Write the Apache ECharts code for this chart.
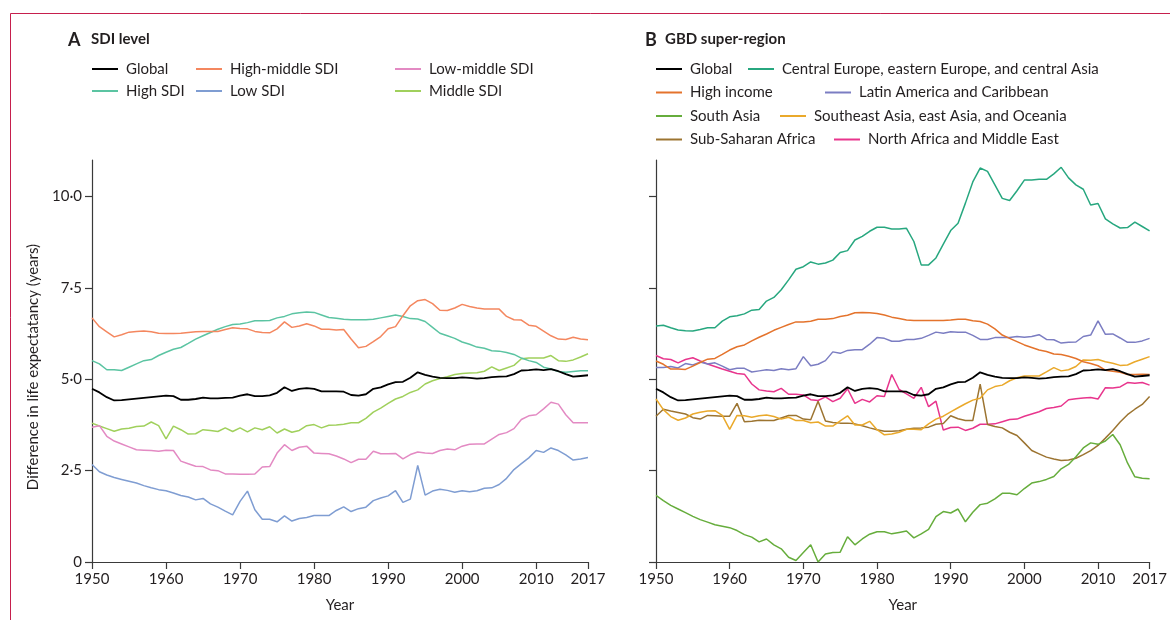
<!DOCTYPE html>
<html>
<head>
<meta charset="utf-8">
<script src="https://cdn.jsdelivr.net/npm/echarts@6/dist/echarts.min.js"></script>
<style>
html,body{margin:0;padding:0;background:#fff;}
#chart{width:1170px;height:620px;}
</style>
</head>
<body>
<div id="chart"></div>
<script>
// ---------- DATA ----------
const years = [1950,1951,1952,1953,1954,1955,1956,1957,1958,1959,
  1960,1961,1962,1963,1964,1965,1966,1967,1968,1969,
  1970,1971,1972,1973,1974,1975,1976,1977,1978,1979,
  1980,1981,1982,1983,1984,1985,1986,1987,1988,1989,
  1990,1991,1992,1993,1994,1995,1996,1997,1998,1999,
  2000,2001,2002,2003,2004,2005,2006,2007,2008,2009,
  2010,2011,2012,2013,2014,2015,2016,2017];

const xTickLabels = [1950,1960,1970,1980,1990,2000,2010,2017];
const yTickLabels = [0,2.5,5,7.5,10];

// Panel A: SDI level
const globalVals = [4.74,4.64,4.51,4.42,4.43,4.45,4.47,4.49,4.51,4.53,
  4.55,4.54,4.44,4.44,4.46,4.50,4.48,4.48,4.49,4.50,
  4.55,4.59,4.54,4.54,4.56,4.63,4.78,4.68,4.74,4.76,
  4.74,4.67,4.67,4.67,4.66,4.57,4.55,4.59,4.74,4.78,
  4.86,4.92,4.93,5.04,5.19,5.12,5.07,5.04,5.03,5.03,
  5.05,5.04,5.02,5.03,5.06,5.07,5.08,5.14,5.24,5.25,
  5.27,5.25,5.28,5.22,5.14,5.07,5.09,5.11];
const highMiddleSDI = [6.68,6.44,6.30,6.16,6.22,6.29,6.31,6.32,6.30,6.26,
  6.25,6.25,6.26,6.28,6.30,6.31,6.31,6.31,6.36,6.41,
  6.39,6.38,6.31,6.28,6.27,6.38,6.57,6.42,6.46,6.52,
  6.46,6.37,6.37,6.35,6.36,6.10,5.86,5.90,6.03,6.17,
  6.38,6.44,6.74,7.01,7.15,7.18,7.07,6.89,6.88,6.95,
  7.05,6.99,6.95,6.92,6.92,6.92,6.72,6.63,6.62,6.48,
  6.45,6.32,6.19,6.10,6.09,6.15,6.10,6.08];
const highSDI = [5.51,5.42,5.26,5.26,5.24,5.33,5.42,5.51,5.54,5.65,
  5.74,5.82,5.87,5.98,6.10,6.19,6.28,6.37,6.44,6.50,
  6.51,6.55,6.60,6.60,6.61,6.68,6.72,6.79,6.82,6.84,
  6.83,6.76,6.69,6.67,6.64,6.63,6.63,6.63,6.64,6.68,
  6.72,6.76,6.72,6.66,6.65,6.58,6.42,6.26,6.19,6.12,
  6.02,5.96,5.88,5.85,5.78,5.77,5.73,5.68,5.58,5.51,
  5.46,5.33,5.28,5.21,5.19,5.21,5.23,5.23];
const middleSDI = [3.80,3.72,3.65,3.58,3.64,3.66,3.71,3.72,3.83,3.73,
  3.37,3.72,3.62,3.50,3.51,3.62,3.60,3.57,3.67,3.57,
  3.67,3.56,3.67,3.62,3.70,3.53,3.64,3.55,3.60,3.73,
  3.76,3.67,3.74,3.75,3.77,3.81,3.81,3.93,4.10,4.21,
  4.34,4.46,4.53,4.64,4.71,4.87,4.96,5.02,5.07,5.13,
  5.16,5.17,5.18,5.22,5.34,5.24,5.31,5.38,5.56,5.58,
  5.58,5.58,5.65,5.51,5.49,5.53,5.61,5.70];
const lowMiddleSDI = [3.69,3.73,3.44,3.31,3.23,3.15,3.07,3.06,3.05,3.03,
  3.06,3.05,2.76,2.69,2.62,2.61,2.52,2.50,2.41,2.41,
  2.40,2.40,2.41,2.60,2.61,2.98,3.21,3.05,3.14,3.17,
  2.98,2.97,2.96,2.90,2.82,2.72,2.81,2.81,3.03,2.96,
  2.96,2.97,2.82,2.94,3.01,2.98,2.97,3.05,3.09,3.07,
  3.17,3.22,3.23,3.23,3.36,3.49,3.54,3.65,3.90,4.00,
  4.03,4.19,4.37,4.32,4.03,3.81,3.81,3.81];
const lowSDI = [2.67,2.47,2.38,2.31,2.26,2.21,2.16,2.09,2.03,1.98,
  1.95,1.89,1.82,1.78,1.70,1.74,1.59,1.50,1.39,1.29,
  1.66,1.94,1.43,1.17,1.17,1.10,1.26,1.12,1.19,1.22,
  1.27,1.27,1.27,1.41,1.51,1.38,1.46,1.50,1.68,1.75,
  1.81,1.95,1.63,1.72,2.64,1.83,1.94,1.99,1.96,1.91,
  1.95,1.92,1.95,2.02,2.03,2.12,2.29,2.53,2.69,2.85,
  3.05,3.00,3.12,3.05,2.93,2.79,2.82,2.86];

// Panel B: GBD super-region
const centralEurope = [6.46,6.48,6.41,6.35,6.33,6.32,6.36,6.41,6.41,6.59,
  6.71,6.74,6.79,6.89,6.91,7.14,7.24,7.45,7.72,8.01,
  8.08,8.21,8.15,8.18,8.26,8.47,8.52,8.81,8.91,9.05,
  9.16,9.16,9.11,9.11,9.13,8.77,8.13,8.13,8.32,8.70,
  9.07,9.27,9.82,10.40,10.78,10.69,10.32,9.95,9.89,10.16,
  10.45,10.45,10.47,10.47,10.62,10.80,10.51,10.32,10.20,9.77,
  9.81,9.39,9.25,9.14,9.15,9.30,9.18,9.06];
const highIncome = [5.50,5.41,5.28,5.28,5.27,5.36,5.46,5.55,5.57,5.68,
  5.80,5.89,5.94,6.05,6.15,6.24,6.34,6.42,6.50,6.57,
  6.57,6.59,6.64,6.64,6.66,6.72,6.75,6.82,6.83,6.82,
  6.80,6.76,6.70,6.66,6.62,6.61,6.61,6.61,6.61,6.61,
  6.62,6.64,6.64,6.60,6.58,6.51,6.38,6.21,6.12,6.03,
  5.94,5.87,5.80,5.76,5.69,5.68,5.63,5.57,5.48,5.43,
  5.37,5.25,5.22,5.19,5.13,5.13,5.14,5.13];
const latinAmerica = [5.32,5.32,5.35,5.31,5.43,5.39,5.47,5.42,5.45,5.36,
  5.26,5.30,5.30,5.20,5.23,5.26,5.24,5.29,5.26,5.29,
  5.62,5.37,5.41,5.51,5.75,5.71,5.79,5.81,5.81,5.96,
  6.14,6.12,6.04,6.04,6.09,6.09,6.12,6.20,6.29,6.26,
  6.30,6.29,6.29,6.20,6.09,6.09,6.14,6.14,6.14,6.17,
  6.15,6.17,6.22,6.09,6.08,5.99,6.01,6.02,6.17,6.21,
  6.60,6.23,6.24,6.13,6.01,6.01,6.05,6.12];
const southAsia = [1.82,1.68,1.55,1.45,1.35,1.25,1.16,1.09,1.02,0.98,
  0.94,0.86,0.75,0.68,0.55,0.63,0.47,0.36,0.13,0.04,
  0.26,0.47,0.00,0.22,0.26,0.27,0.69,0.47,0.63,0.76,
  0.83,0.83,0.77,0.81,0.85,0.66,0.77,0.89,1.24,1.38,
  1.34,1.45,1.10,1.36,1.57,1.61,1.73,1.88,1.88,1.84,
  2.01,2.16,2.20,2.26,2.34,2.55,2.67,2.88,3.12,3.26,
  3.22,3.31,3.49,3.21,2.71,2.33,2.29,2.28];
const southeastAsia = [4.46,4.17,3.98,3.88,3.94,4.05,4.10,4.13,4.14,4.01,
  3.63,4.01,4.00,3.96,4.00,4.02,3.98,3.91,3.96,3.87,
  3.87,3.81,3.83,3.72,3.72,3.86,4.00,3.75,3.75,3.85,
  3.62,3.48,3.50,3.55,3.63,3.63,3.62,3.78,3.91,3.99,
  4.11,4.22,4.33,4.43,4.48,4.71,4.80,4.84,4.96,5.04,
  5.09,5.09,5.09,5.20,5.32,5.23,5.26,5.35,5.53,5.52,
  5.54,5.48,5.44,5.38,5.39,5.48,5.55,5.62];
const subSaharanAfrica = [3.99,4.18,4.13,4.09,4.05,3.95,3.91,4.01,4.00,3.99,
  3.99,4.34,3.84,3.85,3.88,3.87,3.87,3.94,4.01,4.01,
  3.91,3.89,4.40,3.86,3.82,3.80,3.80,3.78,3.73,3.67,
  3.62,3.58,3.58,3.59,3.63,3.66,3.67,3.69,3.77,3.79,
  4.00,3.92,3.87,3.87,4.87,3.76,3.71,3.67,3.55,3.46,
  3.26,3.05,2.96,2.87,2.82,2.78,2.79,2.84,2.94,3.05,
  3.19,3.39,3.60,3.83,4.03,4.18,4.31,4.53];
const northAfrica = [5.65,5.56,5.54,5.45,5.54,5.59,5.50,5.42,5.35,5.28,
  5.22,5.16,5.14,4.87,4.71,4.68,4.66,4.75,4.59,4.59,
  4.57,4.44,4.42,4.52,4.39,4.48,4.74,4.34,4.45,4.38,
  4.55,4.53,5.13,4.72,4.60,4.48,4.78,4.25,4.40,3.61,
  3.68,3.69,3.60,3.66,3.77,3.77,3.78,3.84,3.90,3.91,
  3.99,4.05,4.11,4.20,4.23,4.27,4.44,4.47,4.49,4.50,
  4.46,4.77,4.76,4.79,4.91,4.89,4.91,4.84];

// ---------- CHART ----------
const FONT = 'Lato, "Noto Sans", sans-serif';
const TXT = '#231f20';
const AX = '#3a3a3a';

function pairs(vals){ return years.map((y,i)=>[y, vals[i]]); }

const panelA = [
  {name:'Global', vals:globalVals, color:'#000000', w:1.8},
  {name:'High-middle SDI', vals:highMiddleSDI, color:'#f4875f', w:1.5},
  {name:'Low-middle SDI', vals:lowMiddleSDI, color:'#e38ac3', w:1.5},
  {name:'High SDI', vals:highSDI, color:'#5bc4a2', w:1.5},
  {name:'Low SDI', vals:lowSDI, color:'#7f9dd2', w:1.5},
  {name:'Middle SDI', vals:middleSDI, color:'#a0d05c', w:1.5}
];
const panelB = [
  {name:'Global ', vals:globalVals, color:'#000000', w:1.8},
  {name:'Central Europe, eastern Europe, and central Asia', vals:centralEurope, color:'#27a77f', w:1.5},
  {name:'High income', vals:highIncome, color:'#e4732c', w:1.5},
  {name:'Latin America and Caribbean', vals:latinAmerica, color:'#7b7dc2', w:1.5},
  {name:'South Asia', vals:southAsia, color:'#66ad3c', w:1.5},
  {name:'Southeast Asia, east Asia, and Oceania', vals:southeastAsia, color:'#eaa92b', w:1.5},
  {name:'Sub-Saharan Africa', vals:subSaharanAfrica, color:'#9c7431', w:1.5},
  {name:'North Africa and Middle East', vals:northAfrica, color:'#e8358d', w:1.5}
];

const series = [];
panelA.slice().reverse().forEach(s=>series.push({
  name:s.name, type:'line', xAxisIndex:0, yAxisIndex:0, data:pairs(s.vals),
  symbol:'none', lineStyle:{color:s.color, width:s.w}, itemStyle:{color:s.color},
  silent:true, animation:false
}));
panelB.slice().reverse().forEach(s=>series.push({
  name:s.name, type:'line', xAxisIndex:1, yAxisIndex:1, data:pairs(s.vals),
  symbol:'none', lineStyle:{color:s.color, width:s.w}, itemStyle:{color:s.color},
  silent:true, animation:false
}));

// legend placements [name, iconLeft, rowCenterY]
const legendPos = [
  ['Global',92,69],['High-middle SDI',196,69],['Low-middle SDI',395,69],
  ['High SDI',92,91],['Low SDI',196,91],['Middle SDI',395,91],
  ['Global ',656,69],['Central Europe, eastern Europe, and central Asia',748,69],
  ['High income',656,92.5],['Latin America and Caribbean',825,92.5],
  ['South Asia',656,116],['Southeast Asia, east Asia, and Oceania',780,116],
  ['Sub-Saharan Africa',656,139.5],['North Africa and Middle East',834,139.5]
];
const legends = legendPos.map(p=>({
  data:[p[0]], left:p[1], top:p[2]-9, orient:'horizontal',
  icon:'rect', itemWidth:26, itemHeight:2, padding:0, selectedMode:false,
  textStyle:{fontFamily:FONT, fontSize:15, color:TXT, lineHeight:18, padding:[0,0,0,3]}
}));

function xAxis(gi){
  return {
    type:'value', gridIndex:gi, min:1950, max:2017, interval:10,
    name:'Year', nameLocation:'middle', nameGap:36,
    nameTextStyle:{fontFamily:FONT, fontSize:15, color:TXT},
    axisLine:{show:true, lineStyle:{color:AX, width:1.2}},
    axisTick:{show:true, length:7, customValues:xTickLabels, lineStyle:{color:AX, width:1.2}},
    axisLabel:{customValues:xTickLabels, fontFamily:FONT, fontSize:15, color:TXT, margin:10,
      formatter:v=>String(v)},
    splitLine:{show:false}
  };
}
function yAxis(gi, labels){
  return {
    type:'value', gridIndex:gi, min:0, max:11, interval:2.5,
    axisLine:{show:true, onZero:false, lineStyle:{color:AX, width:1.2}},
    axisTick:{show:true, length:7, customValues:yTickLabels, lineStyle:{color:AX, width:1.2}},
    axisLabel:{show:labels, customValues:yTickLabels, fontFamily:FONT, fontSize:15, color:TXT, margin:10,
      formatter:v=> v===0 ? '0' : v.toFixed(1).replace('.', '\u00B7')},
    splitLine:{show:false}
  };
}

const option = {
  backgroundColor:'#ffffff',
  animation:false,
  grid:[
    {left:92, top:160, width:496, height:402},
    {left:656, top:160, width:496, height:402}
  ],
  xAxis:[xAxis(0), xAxis(1)],
  yAxis:[yAxis(0,true), yAxis(1,false)],
  legend:legends,
  series:series,
  graphic:[
    {type:'rect', shape:{x:10.5, y:13.5, width:1200, height:700}, style:{fill:'none', stroke:'#c61f4d', lineWidth:1}, silent:true},
    {type:'text', left:68, top:31, style:{text:'A', fontFamily:FONT, fontSize:18, fontWeight:'bold', fill:TXT}},
    {type:'text', left:91, top:32, style:{text:'SDI level', fontFamily:FONT, fontSize:15, fontWeight:'bold', fill:TXT}},
    {type:'text', left:645, top:31, style:{text:'B', fontFamily:FONT, fontSize:18, fontWeight:'bold', fill:TXT}},
    {type:'text', left:665, top:32, style:{text:'GBD super-region', fontFamily:FONT, fontSize:15, fontWeight:'bold', fill:TXT}},
    {type:'text', x:33, y:367, rotation:Math.PI/2,
      style:{text:'Difference in life expectatancy (years)', fontFamily:FONT, fontSize:15, fill:TXT,
        align:'center', verticalAlign:'middle'}}
  ]
};

const chart = echarts.init(document.getElementById('chart'), null, {renderer:'canvas'});
chart.setOption(option);
</script>
</body>
</html>
